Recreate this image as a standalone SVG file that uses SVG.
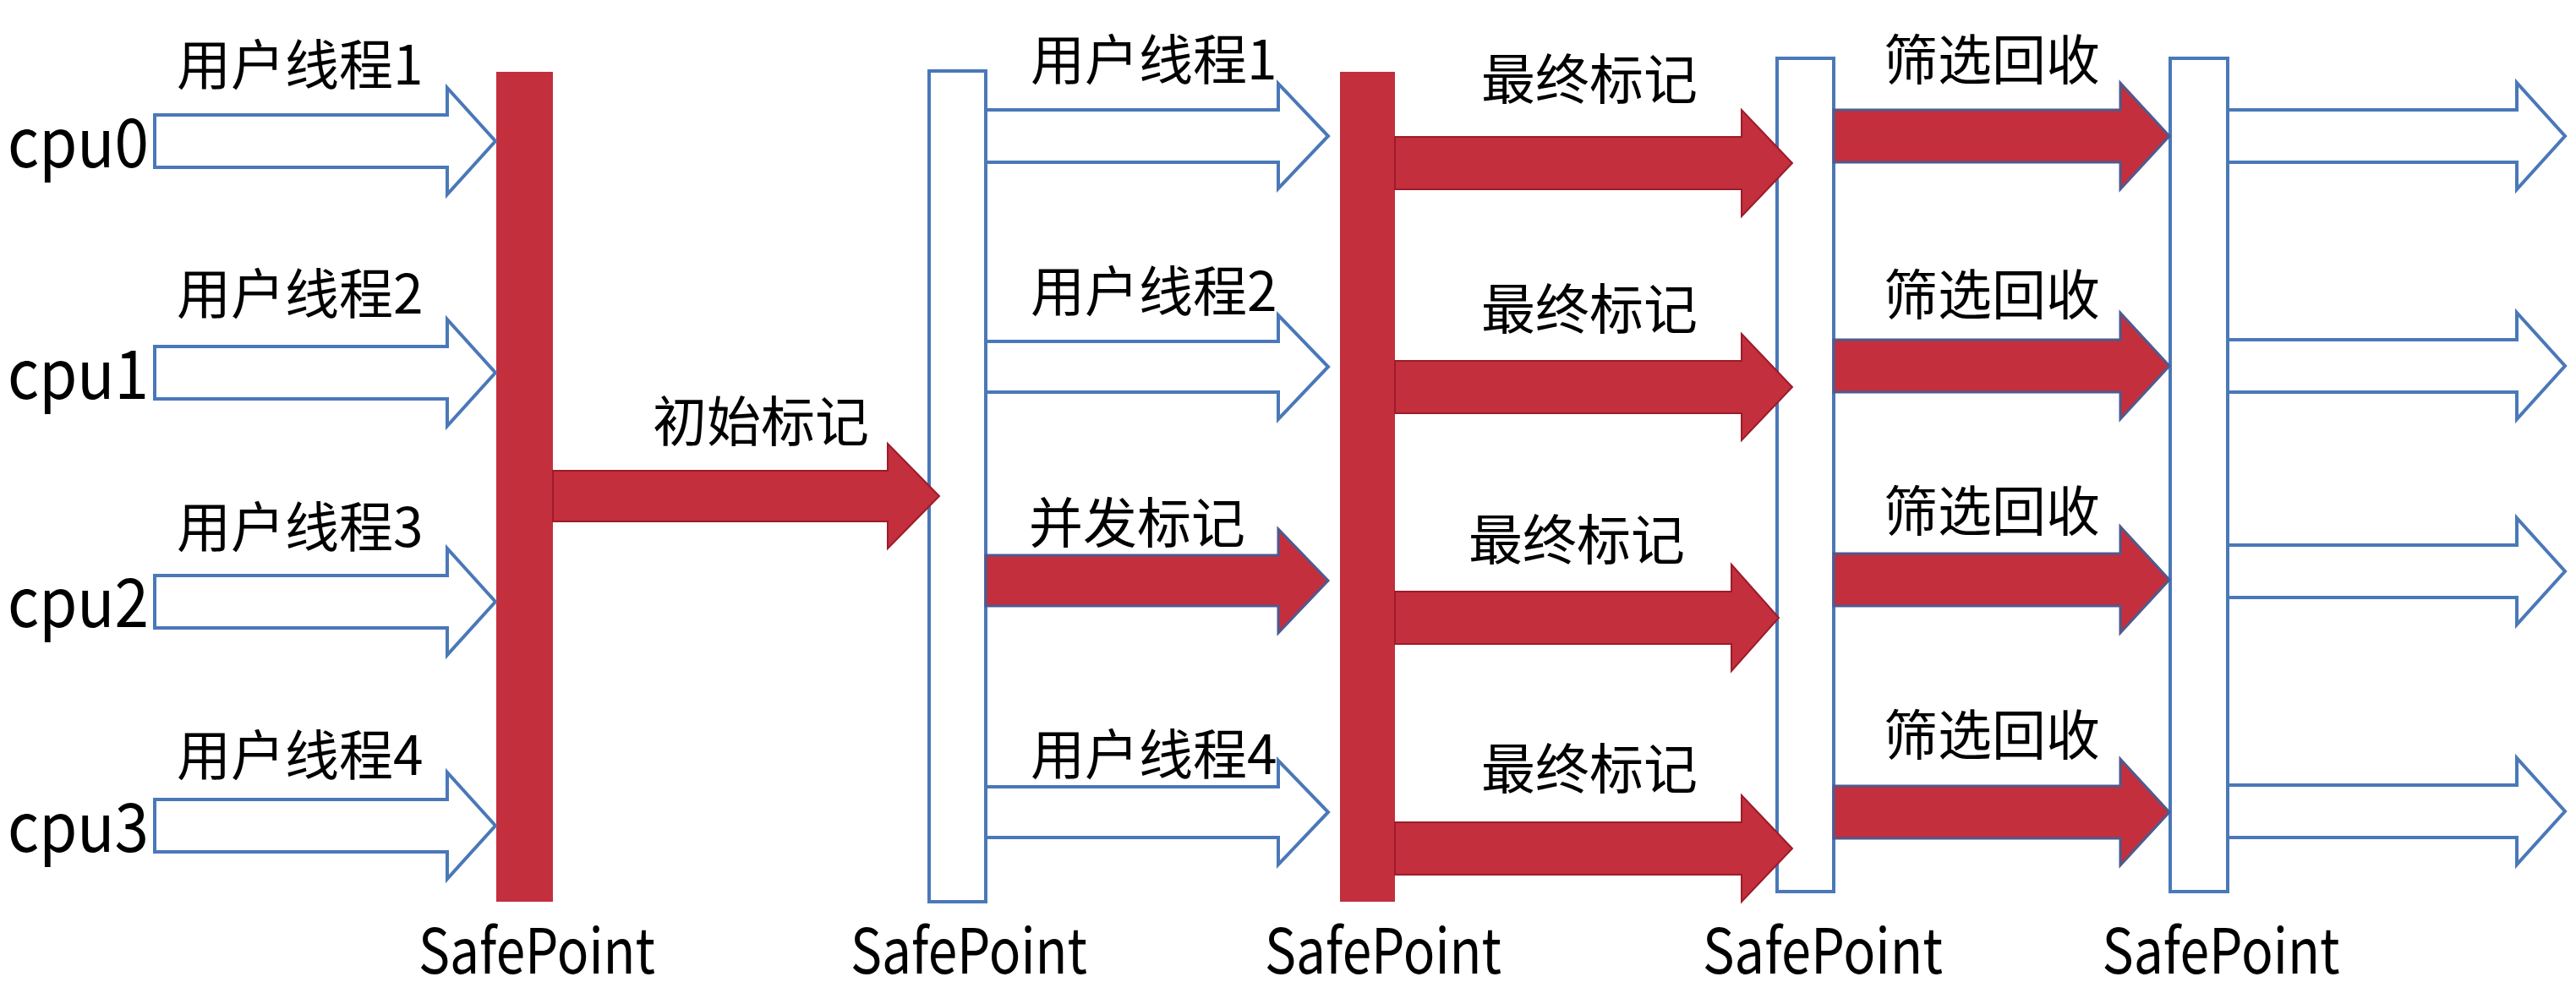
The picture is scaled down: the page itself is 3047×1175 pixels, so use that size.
<svg xmlns="http://www.w3.org/2000/svg" width="3047" height="1175" viewBox="0 0 3047 1175">
<style>
text{font-family:"Noto Sans CJK SC","Noto Sans",sans-serif;fill:#000}
.lbl{font-size:64px}
.cpu{font-size:80px}
.sp{font-size:74px;text-anchor:middle}
.hollow{fill:#fff;stroke:#4a78b8;stroke-width:4;stroke-linejoin:miter}
.red{fill:#c32f3d;stroke:#9c1c2a;stroke-width:2}
.redb{fill:#c32f3d;stroke:#4f5a8e;stroke-width:3}
.bar{fill:#c32f3d}
.box{fill:#fff;stroke:#4a78b8;stroke-width:4}
</style>
<rect width="3047" height="1175" fill="#fff"/>

<g id="labels-cpu">
<text class="cpu" x="9" y="198" textLength="167" lengthAdjust="spacingAndGlyphs">cpu0</text>
<text class="cpu" x="9" y="472" textLength="167" lengthAdjust="spacingAndGlyphs">cpu1</text>
<text class="cpu" x="9" y="742" textLength="167" lengthAdjust="spacingAndGlyphs">cpu2</text>
<text class="cpu" x="9" y="1008" textLength="167" lengthAdjust="spacingAndGlyphs">cpu3</text>
</g>

<g id="safepoint1"><rect class="bar" x="587" y="85" width="67" height="982"/><text class="sp" x="635" y="1152" textLength="280" lengthAdjust="spacingAndGlyphs">SafePoint</text></g>
<g id="safepoint2"><rect class="box" x="1099" y="84" width="67" height="983"/><text class="sp" x="1146" y="1152" textLength="280" lengthAdjust="spacingAndGlyphs">SafePoint</text></g>
<g id="safepoint3"><rect class="bar" x="1585" y="85" width="65" height="982"/><text class="sp" x="1636" y="1152" textLength="280" lengthAdjust="spacingAndGlyphs">SafePoint</text></g>
<g id="safepoint4"><rect class="box" x="2102" y="69" width="67" height="986"/><text class="sp" x="2156" y="1152" textLength="284" lengthAdjust="spacingAndGlyphs">SafePoint</text></g>
<g id="safepoint5"><rect class="box" x="2567" y="69" width="68" height="986"/><text class="sp" x="2627" y="1152" textLength="281" lengthAdjust="spacingAndGlyphs">SafePoint</text></g>

<g id="connectors">
<path class="hollow" d="M183,136 L529,136 L529,104 L586,167 L529,230 L529,198 L183,198 Z"/>
<path class="hollow" d="M183,410 L529,410 L529,378 L586,441 L529,504 L529,472 L183,472 Z"/>
<path class="hollow" d="M183,681 L529,681 L529,649 L586,712 L529,775 L529,743 L183,743 Z"/>
<path class="hollow" d="M183,946 L529,946 L529,914 L586,977 L529,1040 L529,1008 L183,1008 Z"/>
<path class="red" d="M654,557 L1050,557 L1050,525 L1111,587 L1050,649 L1050,617 L654,617 Z"/>
<path class="hollow" d="M1166,130 L1512,130 L1512,99 L1571,161 L1512,223 L1512,192 L1166,192 Z"/>
<path class="hollow" d="M1166,404 L1512,404 L1512,373 L1571,434 L1512,496 L1512,464 L1166,464 Z"/>
<path class="redb" d="M1166,657 L1512,657 L1512,626 L1571,687 L1512,749 L1512,717 L1166,717 Z"/>
<path class="hollow" d="M1166,931 L1512,931 L1512,900 L1571,961 L1512,1023 L1512,991 L1166,991 Z"/>
<path class="red" d="M1650,162 L2060,162 L2060,130 L2120,193 L2060,256 L2060,224 L1650,224 Z"/>
<path class="red" d="M1650,427 L2060,427 L2060,395 L2120,458 L2060,521 L2060,489 L1650,489 Z"/>
<path class="red" d="M1650,700 L2048,700 L2048,668 L2104,731 L2048,794 L2048,762 L1650,762 Z"/>
<path class="red" d="M1650,973 L2060,973 L2060,941 L2120,1004 L2060,1067 L2060,1035 L1650,1035 Z"/>
<path class="redb" d="M2169,130 L2508,130 L2508,98 L2566,161 L2508,224 L2508,192 L2169,192 Z"/>
<path class="redb" d="M2169,402 L2508,402 L2508,370 L2566,433 L2508,496 L2508,464 L2169,464 Z"/>
<path class="redb" d="M2169,655 L2508,655 L2508,623 L2566,686 L2508,749 L2508,717 L2169,717 Z"/>
<path class="redb" d="M2169,930 L2508,930 L2508,898 L2566,961 L2508,1024 L2508,992 L2169,992 Z"/>
<path class="hollow" d="M2635,130 L2977,130 L2977,98 L3034,161 L2977,224 L2977,192 L2635,192 Z"/>
<path class="hollow" d="M2635,402 L2977,402 L2977,370 L3034,433 L2977,496 L2977,464 L2635,464 Z"/>
<path class="hollow" d="M2635,645 L2977,645 L2977,613 L3034,676 L2977,739 L2977,707 L2635,707 Z"/>
<path class="hollow" d="M2635,929 L2977,929 L2977,897 L3034,960 L2977,1023 L2977,991 L2635,991 Z"/>
</g>

<g id="arrow-labels">
<text class="lbl" x="209" y="100">用户线程1</text>
<text class="lbl" x="209" y="371">用户线程2</text>
<text class="lbl" x="209" y="647">用户线程3</text>
<text class="lbl" x="209" y="917">用户线程4</text>
<text class="lbl" x="772" y="522">初始标记</text>
<text class="lbl" x="1219" y="94">用户线程1</text>
<text class="lbl" x="1219" y="368">用户线程2</text>
<text class="lbl" x="1217" y="642">并发标记</text>
<text class="lbl" x="1219" y="916">用户线程4</text>
<text class="lbl" x="1752" y="117">最终标记</text>
<text class="lbl" x="1752" y="389">最终标记</text>
<text class="lbl" x="1737" y="662">最终标记</text>
<text class="lbl" x="1752" y="933">最终标记</text>
<text class="lbl" x="2228" y="94">筛选回收</text>
<text class="lbl" x="2228" y="372">筛选回收</text>
<text class="lbl" x="2228" y="628">筛选回收</text>
<text class="lbl" x="2228" y="893">筛选回收</text>
</g>
</svg>
